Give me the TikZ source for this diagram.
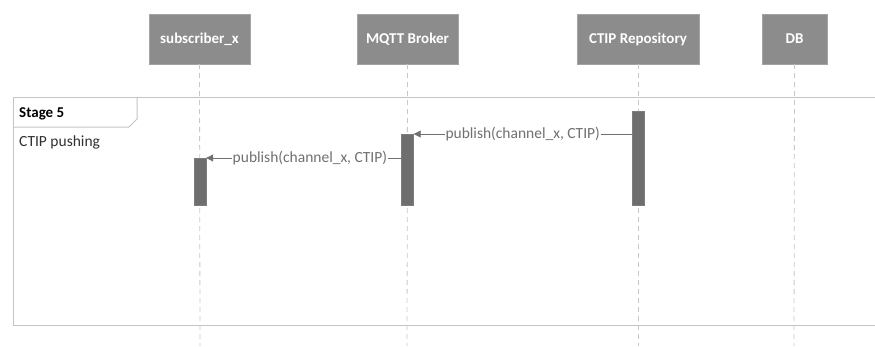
\documentclass[tikz,border=0pt]{standalone}
\usepackage{fontspec}
\setmainfont{Carlito}
\usetikzlibrary{arrows.meta}
\definecolor{boxgray}{HTML}{8C8C8C}
\definecolor{bargray}{HTML}{6E6E6E}
\definecolor{linegray}{HTML}{707070}
\definecolor{framegray}{HTML}{C4C4C4}
\definecolor{lifegray}{HTML}{C8C8C8}
\definecolor{textdark}{HTML}{303030}
\tikzset{
  actor/.style={fill=boxgray, draw=boxgray!80, text=white, font=\bfseries\fontsize{15}{17}\selectfont, inner sep=0pt, minimum height=50pt},
  actbar/.style={fill=bargray, draw=bargray!90, minimum width=12pt, inner sep=0pt},
  lifeline/.style={draw=lifegray, dashed, dash pattern=on 5pt off 4pt, line width=0.8pt},
  msg/.style={draw=linegray, line width=0.9pt, -{Triangle[length=7pt,width=7pt]}},
  msglabel/.style={fill=white, text=linegray, font=\fontsize{15.5}{17}\selectfont, inner sep=1pt},
  frameline/.style={draw=framegray, line width=1pt}
}
\begin{document}
\begin{tikzpicture}[x=1pt,y=-1pt]
\useasboundingbox (0,0) rectangle (875,346);
\clip (0,0) rectangle (875,346);
% actors
\node[actor, minimum width=101pt] (sub) at (199.5,39) {subscriber\_x};
\node[actor, minimum width=101pt] (mqtt) at (407.5,39) {MQTT Broker};
\node[actor, minimum width=122pt] (ctip) at (638,39) {CTIP Repository};
\node[actor, minimum width=65pt] (db) at (794.5,39) {DB};
% lifeline ends
\coordinate (subE) at (200,346);
\coordinate (mqttE) at (407,346);
\coordinate (ctipE) at (638,346);
\coordinate (dbE) at (794,346);
\draw[lifeline] (sub.south) -- (subE);
\draw[lifeline] (mqtt.south) -- (mqttE);
\draw[lifeline] (ctip.south) -- (ctipE);
\draw[lifeline] (db.south) -- (dbE);
% frame
\draw[frameline] (880,97) -- (13,97) -- (13,325) -- (880,325);
\draw[frameline] (137,97) -- (137,119) -- (129,127) -- (13,127);
\node[anchor=base west, text=black, font=\bfseries\fontsize{15}{17}\selectfont, inner sep=0pt] (stage) at (19,117) {Stage 5};
\node[anchor=base west, text=textdark, font=\fontsize{15.5}{17}\selectfont, inner sep=0pt] (pushing) at (19,146) {CTIP pushing};
% activation bars
\node[actbar, minimum height=94pt, anchor=north] (actC) at (638,111) {};
\node[actbar, minimum height=71pt, anchor=north] (actM) at (407.5,134) {};
\node[actbar, minimum height=47pt, anchor=north] (actS) at (200,158) {};
% messages
\coordinate (m1s) at (actC.west |- actM.north);
\coordinate (m2s) at (actM.east |- actS.north);
\draw[msg] (m1s) -- node[msglabel] (l1) {publish(channel\_x, CTIP)} (actM.north east);
\draw[msg] (m2s) -- node[msglabel] (l2) {publish(channel\_x, CTIP)} (actS.north east);
\end{tikzpicture}
\end{document}
